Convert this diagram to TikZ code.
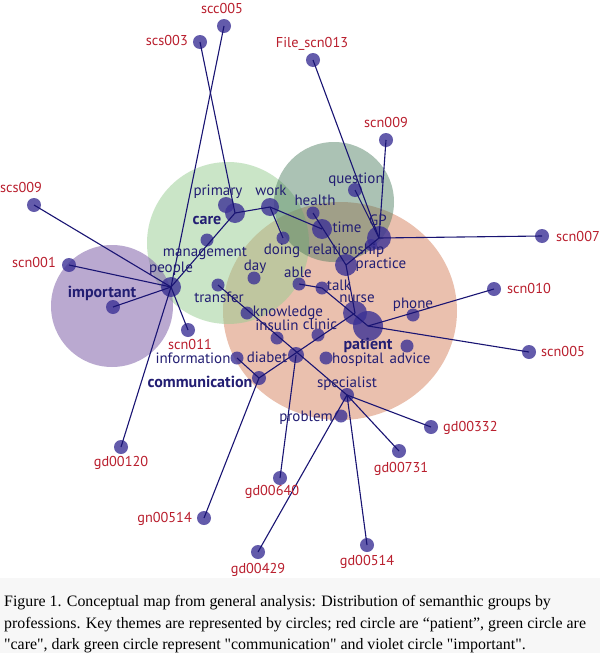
\documentclass[tikz,border=0pt]{standalone}
\usepackage{fontspec}
\setmainfont{Liberation Serif}
\newfontfamily\labfont{PT Sans}
\definecolor{dotc}{RGB}{60,50,150}
\definecolor{edgec}{RGB}{25,20,115}
\definecolor{navyl}{RGB}{35,30,115}
\definecolor{redl}{RGB}{185,30,45}
\definecolor{orangec}{RGB}{215,130,95}
\definecolor{greenc}{RGB}{150,205,145}
\definecolor{dgreenc}{RGB}{70,120,90}
\definecolor{violetc}{RGB}{130,100,170}
\definecolor{capbg}{RGB}{247,247,247}
\begin{document}
\begin{tikzpicture}[x=1pt,y=-1pt,
  wdot/.style={circle,fill=dotc,fill opacity=0.8,draw=none,inner sep=0pt,minimum size=#1},
  wdot/.default=14pt,
  lab/.style={font=\labfont\fontsize{15}{17}\selectfont,text=navyl,anchor=base,inner sep=0pt},
  blab/.style={lab,font=\labfont\bfseries\fontsize{16}{18}\selectfont},
  rlab/.style={lab,text=redl,font=\labfont\fontsize{14.3}{16}\selectfont},
  conn/.style={draw=edgec,line width=1.1pt},
  captext/.style={anchor=base west,inner sep=0pt,font=\fontsize{15.9}{19}\selectfont}]
\useasboundingbox (0,0) rectangle (600,653);
\fill[white] (0,0) rectangle (600,578);
\fill[capbg] (0,578) rectangle (600,653);
% theme circles
\fill[orangec,fill opacity=0.5] (340,311) ellipse [x radius=117,y radius=109];
\fill[greenc,fill opacity=0.5] (228,243) circle [radius=81];
\fill[dgreenc,fill opacity=0.45] (334,202) circle [radius=60];
\fill[violetc,fill opacity=0.55] (112,306) circle [radius=61];
% dots
\node[wdot] (scc005) at (224,26) {};
\node[wdot] (scs003) at (200,42) {};
\node[wdot] (fscn013) at (313,60) {};
\node[wdot] (scn009) at (386,140) {};
\node[wdot] (scs009) at (34,205) {};
\node[wdot] (scn001) at (69,265) {};
\node[wdot] (important) at (113,307) {};
\node[wdot=20pt] (people) at (171,287) {};
\node[wdot] (scn011) at (188,330) {};
\node[wdot] (gd00120) at (121,447) {};
\node[wdot] (gn00514) at (204,518) {};
\node[wdot] (gd00640) at (280,478) {};
\node[wdot] (gd00429) at (258,552) {};
\node[wdot] (specialist) at (347,395) {};
\node[wdot=13pt] (problem) at (341,416) {};
\node[wdot] (gd00332) at (431,427) {};
\node[wdot] (gd00731) at (399,451) {};
\node[wdot] (gd00514) at (367,545) {};
\node[wdot] (scn007) at (542,236) {};
\node[wdot] (scn010) at (494,289) {};
\node[wdot] (scn005) at (529,352) {};
\node[wdot=16pt] (primary) at (226,205) {};
\node[wdot=20pt] (care) at (235,213) {};
\node[wdot=18pt] (work) at (270,207) {};
\node[wdot=13pt] (health) at (313,213) {};
\node[wdot] (question) at (355,190) {};
\node[wdot=20pt] (time) at (322,229) {};
\node[wdot=24pt] (GP) at (379,238) {};
\node[wdot=12pt] (relationship) at (371,245) {};
\node[wdot=22pt] (practice) at (346,265) {};
\node[wdot=13pt] (doing) at (283,238) {};
\node[wdot=13pt] (management) at (207,240) {};
\node[wdot=13pt] (day) at (254,278) {};
\node[wdot=13pt] (able) at (299,284) {};
\node[wdot=13pt] (talk) at (322,288) {};
\node[wdot=24pt] (nurse) at (355,313) {};
\node[wdot=30pt] (patient) at (368,326) {};
\node[wdot=13pt] (phone) at (413,315) {};
\node[wdot=13pt] (advice) at (407,346) {};
\node[wdot=13pt] (hospital) at (326,358) {};
\node[wdot=13pt] (clinic) at (318,335) {};
\node[wdot=13pt] (transfer) at (218,285) {};
\node[wdot=13pt] (knowledge) at (247,313) {};
\node[wdot=13pt] (insulin) at (277,338) {};
\node[wdot=16pt] (diabet) at (296,355) {};
\node[wdot=13pt] (information) at (237,358) {};
\node[wdot] (communication) at (259,378) {};
% connectors
\draw[conn] (scc005.center) -- (people.center);
\draw[conn] (scs003.center) -- (care.center);
\draw[conn] (fscn013.center) -- (GP.center);
\draw[conn] (scn009.center) -- (GP.center);
\draw[conn] (question.center) -- (GP.center);
\draw[conn] (scs009.center) -- (people.center);
\draw[conn] (scn001.center) -- (people.center);
\draw[conn] (important.center) -- (people.center);
\draw[conn] (people.center) -- (scn011.center);
\draw[conn] (people.center) -- (gd00120.center);
\draw[conn] (people.center) -- (care.center);
\draw[conn] (care.center) -- (work.center);
\draw[conn] (work.center) -- (time.center);
\draw[conn] (work.center) -- (doing.center);
\draw[conn] (health.center) -- (practice.center);
\draw[conn] (practice.center) -- (GP.center);
\draw[conn] (GP.center) -- (scn007.center);
\draw[conn] (practice.center) -- (nurse.center);
\draw[conn] (able.center) -- (talk.center);
\draw[conn] (talk.center) -- (patient.center);
\draw[conn] (patient.center) -- (scn010.center);
\draw[conn] (patient.center) -- (scn005.center);
\draw[conn] (nurse.center) -- (communication.center);
\draw[conn] (information.center) -- (communication.center);
\draw[conn] (communication.center) -- (gn00514.center);
\draw[conn] (diabet.center) -- (gd00640.center);
\draw[conn] (transfer.center) -- (specialist.center);
\draw[conn] (specialist.center) -- (gd00429.center);
\draw[conn] (specialist.center) -- (gd00332.center);
\draw[conn] (specialist.center) -- (gd00731.center);
\draw[conn] (specialist.center) -- (gd00514.center);
% red labels
\node[rlab] (l-scc005) at (222,13) {scc005};
\node[rlab,anchor=base east] (l-scs003) at (188,45) {scs003};
\node[rlab] (l-fscn013) at (312,47) {File\_scn013};
\node[rlab] (l-scn009) at (386,127) {scn009};
\node[rlab] (l-scs009) at (21,192) {scs009};
\node[rlab,anchor=base east] (l-scn001) at (56,267) {scn001};
\node[rlab] (l-scn011) at (190,349) {scn011};
\node[rlab] (l-gd00120) at (121,466) {gd00120};
\node[rlab,anchor=base east] (l-gn00514) at (192,522) {gn00514};
\node[rlab] (l-gd00640) at (272,495) {gd00640};
\node[rlab] (l-gd00429) at (258,573) {gd00429};
\node[rlab,anchor=base west] (l-gd00332) at (443,431) {gd00332};
\node[rlab] (l-gd00731) at (401,472) {gd00731};
\node[rlab] (l-gd00514) at (367,565) {gd00514};
\node[rlab,anchor=base west] (l-scn007) at (556,241) {scn007};
\node[rlab,anchor=base west] (l-scn010) at (507,293) {scn010};
\node[rlab,anchor=base west] (l-scn005) at (541,356) {scn005};
% navy labels
\node[lab] (l-primary) at (218,195) {primary};
\node[blab] (l-care) at (207,224) {care};
\node[lab] (l-work) at (271,195) {work};
\node[lab] (l-health) at (315,205) {health};
\node[lab] (l-question) at (356,183) {question};
\node[lab] (l-time) at (347,232) {time};
\node[lab] (l-GP) at (378,225) {GP};
\node[lab] (l-relationship) at (346,254) {relationship};
\node[lab] (l-practice) at (381,268) {practice};
\node[lab] (l-doing) at (282,254) {doing};
\node[lab] (l-management) at (205,256) {management};
\node[lab] (l-day) at (255,270) {day};
\node[lab] (l-able) at (298,277) {able};
\node[lab] (l-talk) at (339,290) {talk};
\node[lab] (l-nurse) at (357,302) {nurse};
\node[blab] (l-patient) at (368,349) {patient};
\node[lab] (l-phone) at (413,308) {phone};
\node[lab] (l-advice) at (410,363) {advice};
\node[lab] (l-hospital) at (358,363) {hospital};
\node[lab] (l-clinic) at (320,329) {clinic};
\node[lab] (l-specialist) at (347,387) {specialist};
\node[lab,anchor=base east] (l-problem) at (333,421) {problem};
\node[lab] (l-transfer) at (219,302) {transfer};
\node[lab] (l-knowledge) at (288,316) {knowledge};
\node[lab] (l-insulin) at (277,330) {insulin};
\node[lab] (l-diabet) at (267,362) {diabet};
\node[lab] (l-information) at (193,363) {information};
\node[blab] (l-communication) at (200,387) {communication};
\node[lab] (l-people) at (171,272) {people};
\node[blab] (l-important) at (102,297) {important};
% caption
\node[captext] (cap1) at (4,606) {Figure 1. Conceptual map from general analysis: Distribution of semanthic groups by};
\node[captext] (cap2) at (4,628) {professions. Key themes are represented by circles; red circle are “patient”, green circle are};
\node[captext] (cap3) at (4,649) {\textquotedbl care\textquotedbl, dark green circle represent \textquotedbl communication\textquotedbl\ and violet circle \textquotedbl important\textquotedbl.};
\end{tikzpicture}
\end{document}
